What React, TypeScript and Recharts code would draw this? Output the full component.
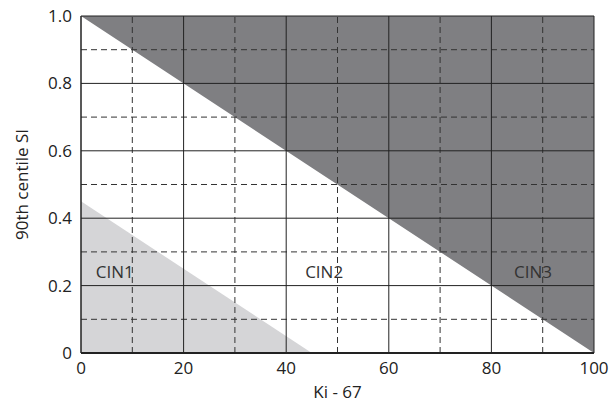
import {
  Area,
  ComposedChart,
  ReferenceDot,
  ReferenceLine,
  XAxis,
  YAxis,
} from 'recharts';

// boundary points along Ki-67
const kiPoints = [0, 45, 100];
// CIN2 / CIN3 boundary (dark region lies above it, up to 1.0)
const upperBoundary = [1, 0.55, 0];
// CIN1 / CIN2 boundary (light region lies below it)
const lowerBoundary = [0.45, 0, null];

const xTicks = [0, 20, 40, 60, 80, 100];
const yTicks = [0, 0.2, 0.4, 0.6, 0.8, 1.0];
const xMinor = [10, 30, 50, 70, 90];
const yMinor = [0.1, 0.3, 0.5, 0.7, 0.9];

const regionLabels = [
  { name: 'CIN1', x: 6.6, y: 0.24 },
  { name: 'CIN2', x: 47.4, y: 0.24 },
  { name: 'CIN3', x: 88.1, y: 0.24 },
];

const data = kiPoints.map((x, i) => ({
  x,
  dark: [upperBoundary[i], 1],
  light: lowerBoundary[i],
}));

const font = '"Open Sans", sans-serif';
const tickStyle = { fontSize: 17, fill: '#222', fontFamily: font };

export default function App() {
  return (
    <div style={{ position: 'absolute', top: 0, left: 0, width: 612, height: 403 }}>
      <ComposedChart
        width={612}
        height={403}
        data={data}
        margin={{ top: 16, right: 18, left: 0, bottom: 0 }}
      >
        <XAxis
          dataKey="x"
          type="number"
          domain={[0, 100]}
          ticks={xTicks}
          tickLine={false}
          tickMargin={3}
          tick={tickStyle}
          axisLine={{ stroke: '#222', strokeWidth: 2 }}
          height={50}
          label={{
            value: 'Ki - 67',
            position: 'insideBottom',
            offset: 5,
            style: { fontSize: 17, fill: '#222', fontFamily: font, whiteSpace: 'pre' },
          }}
        />
        <YAxis
          type="number"
          domain={[0, 1]}
          ticks={yTicks}
          tickLine={false}
          tickMargin={3}
          tick={tickStyle}
          tickFormatter={(v: number) => (v === 0 ? '0' : v.toFixed(1))}
          axisLine={{ stroke: '#222', strokeWidth: 1.5 }}
          width={81}
          label={{
            value: '90th centile SI',
            angle: -90,
            position: 'insideLeft',
            offset: 22,
            style: { fontSize: 17, fill: '#222', fontFamily: font, textAnchor: 'middle' },
          }}
        />
        <Area
          type="linear"
          dataKey="dark"
          stroke="none"
          fill="#7f7f82"
          fillOpacity={1}
          isAnimationActive={false}
        />
        <Area
          type="linear"
          dataKey="light"
          stroke="none"
          fill="#d5d5d7"
          fillOpacity={1}
          baseValue={0}
          isAnimationActive={false}
        />
        {xMinor.map((v) => (
          <ReferenceLine key={'xm' + v} x={v} stroke="#333" strokeDasharray="6 4" />
        ))}
        {yMinor.map((v) => (
          <ReferenceLine key={'ym' + v} y={v} stroke="#333" strokeDasharray="6 4" />
        ))}
        {xTicks.slice(1).map((v) => (
          <ReferenceLine key={'x' + v} x={v} stroke="#222" />
        ))}
        {yTicks.slice(1).map((v) => (
          <ReferenceLine key={'y' + v} y={v} stroke="#222" />
        ))}
        {regionLabels.map((l) => (
          <ReferenceDot
            key={l.name}
            x={l.x}
            y={l.y}
            r={0}
            stroke="none"
            fill="none"
            label={{
              value: l.name,
              position: 'center',
              style: { fontSize: 17, fill: '#333', fontFamily: font },
            }}
          />
        ))}
      </ComposedChart>
    </div>
  );
}
